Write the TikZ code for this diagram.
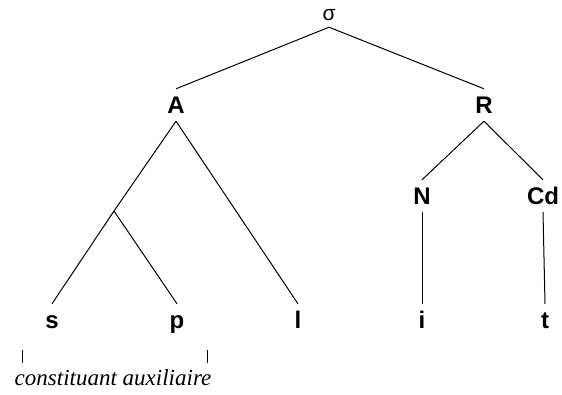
\documentclass[tikz,border=0pt]{standalone}
\usepackage{fontspec}
\setmainfont{Liberation Sans}
\newfontfamily\capfont{Liberation Serif}
\usetikzlibrary{positioning}
\tikzstyle{cat}=[inner sep=0pt,minimum height=32pt,text height=17pt,text depth=0pt,font=\fontsize{24}{26}\selectfont\bfseries]
\tikzstyle{top}=[inner sep=0pt,minimum height=24pt,font=\fontsize{21}{24}\selectfont]
\tikzstyle{br}=[line width=1pt]

\begin{document}
\begin{tikzpicture}[x=1pt,y=-1pt]
\useasboundingbox (0,0) rectangle (562,394);
\node[top] at (329,15)(sig){σ};
\node[cat] at (176,105)(A){A};
\node[cat] at (484,105)(R){R};
\node[cat] at (422,196)(N){N};
\node[cat] at (543,196)(Cd){Cd};
\node[cat] at (52,320)(s){s};
\node[cat] at (177,320)(p){p};
\node[cat] at (298,320)(l){l};
\node[cat] at (422,320)(i){i};
\node[cat] at (545,320)(t){t};
\coordinate (j) at (114,211);

\draw[br] (sig.south) -- (A.north);
\draw[br] (sig.south) -- (R.north);
\draw[br] (A.south) -- (j) -- (s.north);
\draw[br] (j) -- (p.north);
\draw[br] (A.south) -- (l.north);
\draw[br] (R.south) -- (N.north);
\draw[br] (R.south) -- (Cd.north);
\draw[br] (N.south) -- (i.north);
\draw[br] (Cd.south) -- (t.north);

\coordinate (ml) at (22,350);
\coordinate (mr) at (207,350);
\draw[line width=0.6pt] (ml) -- ++(0,13);
\draw[line width=0.6pt] (mr) -- ++(0,13);
\node at (113,378)(aux){\capfont\itshape\fontsize{23}{25}\selectfont constituant auxiliaire};
\end{tikzpicture}
\end{document}
